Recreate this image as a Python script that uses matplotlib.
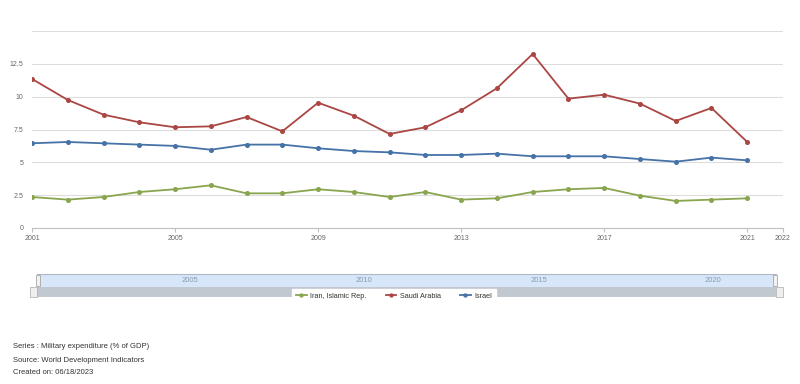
import matplotlib
matplotlib.use("Agg")
import matplotlib.pyplot as plt
from matplotlib.patches import Rectangle

years = list(range(2001, 2022))
saudi = [11.35, 9.75, 8.63, 8.05, 7.67, 7.74, 8.45, 7.36, 9.54, 8.55, 7.16,
         7.67, 8.96, 10.64, 13.25, 9.85, 10.15, 9.47, 8.15, 9.14, 6.55]
israel = [6.45, 6.55, 6.45, 6.35, 6.25, 5.96, 6.35, 6.35, 6.07, 5.86, 5.76,
          5.56, 5.56, 5.66, 5.46, 5.46, 5.46, 5.25, 5.05, 5.36, 5.15]
iran = [2.36, 2.16, 2.36, 2.74, 2.95, 3.25, 2.64, 2.64, 2.95, 2.74, 2.36,
        2.74, 2.16, 2.26, 2.74, 2.95, 3.05, 2.46, 2.06, 2.16, 2.26]
series_names = ["Iran, Islamic Rep.", "Saudi Arabia", "Israel"]
colors = ["#89A54E", "#AA4643", "#4572A7"]
x_ticks = [2001, 2005, 2009, 2013, 2017, 2021, 2022]
y_ticks = [0, 2.5, 5, 7.5, 10, 12.5, 15]
nav_ticks = [2005, 2010, 2015, 2020]
footer = ["Series : Military expenditure (% of GDP)",
          "Source: World Development Indicators",
          "Created on: 06/18/2023"]

W, H = 800, 384
fig = plt.figure(figsize=(8, 3.84), dpi=100)
plt.rcParams["font.family"] = ["Liberation Sans", "DejaVu Sans"]


def fx(px):
    return px / W


def fy(py):
    return 1 - py / H


# main plot
ax = fig.add_axes([fx(32), fy(228), fx(783) - fx(32), fy(31) - fy(228)])
handles = []
for vals, name, c in zip([iran, saudi, israel], series_names, colors):
    h, = ax.plot(years, vals, color=c, lw=1.3, marker="o", ms=2.6,
                 label=name, zorder=3)
    handles.append(h)

ax.set_xlim(2001, 2022)
ax.set_ylim(0, 15)
ax.set_yticks(y_ticks)
ax.set_yticklabels(["0", "2.5", "5", "7.5", "10", "12.5", ""])
ax.set_xticks(x_ticks)
ax.set_xticklabels([str(t) for t in x_ticks])
ax.grid(axis="y", color="#dddddd", lw=0.8)
ax.set_axisbelow(True)
for s in ["top", "right", "left"]:
    ax.spines[s].set_visible(False)
ax.spines["bottom"].set_color("#c0c0c0")
ax.spines["bottom"].set_linewidth(0.8)
ax.tick_params(axis="y", length=0, pad=6, labelsize=5, labelcolor="#666666")
ax.tick_params(axis="x", length=3, color="#c0c0c0", pad=2, labelsize=5,
               labelcolor="#666666")

# navigator
nav = fig.add_axes([fx(37), fy(287), fx(776) - fx(37), fy(274) - fy(287)])
nav.set_xlim(2000.61, 2021.81)
nav.set_ylim(0, 1)
nav.set_facecolor("#d7e6f8")
for s in nav.spines.values():
    s.set_visible(False)
nav.spines["top"].set_visible(True)
nav.spines["top"].set_color("#b0b8c4")
nav.set_xticks([])
nav.set_yticks([])
for t in nav_ticks:
    nav.text(t, 0.5, str(t), ha="center", va="center", fontsize=5.5,
             color="#8a9bb0")

# scrollbar + handles
fig.patches.append(Rectangle((fx(37), fy(297)), fx(776) - fx(37), fy(287) - fy(297),
                             transform=fig.transFigure, facecolor="#c2c8d0",
                             edgecolor="none"))
for x0 in [30, 776]:
    fig.patches.append(Rectangle((fx(x0), fy(297)), fx(7), fy(287) - fy(297),
                                 transform=fig.transFigure, facecolor="#eeeeee",
                                 edgecolor="#aaaaaa", lw=0.5))
for x0 in [36, 773]:
    fig.patches.append(Rectangle((fx(x0), fy(286)), fx(4), fy(275) - fy(286),
                                 transform=fig.transFigure, facecolor="#f2f2f2",
                                 edgecolor="#999999", lw=0.5))

# legend
leg = fig.legend(handles=handles, loc="center", bbox_to_anchor=(fx(394), fy(296)),
                 ncol=3, fontsize=5.2, frameon=True, fancybox=False,
                 handlelength=1.5, handletextpad=0.5, columnspacing=2.6,
                 borderpad=0.5, markerscale=0.8)
leg.get_frame().set_facecolor("white")
leg.get_frame().set_edgecolor("white")
leg.get_frame().set_alpha(1)
for t in leg.get_texts():
    t.set_color("#333333")

# footer
for i, line in enumerate(footer):
    fig.text(fx(13), fy(347 + 13 * i), line, ha="left", va="center",
             fontsize=5.5, color="#333333")

fig.savefig("out.png", dpi=100, facecolor="white")
